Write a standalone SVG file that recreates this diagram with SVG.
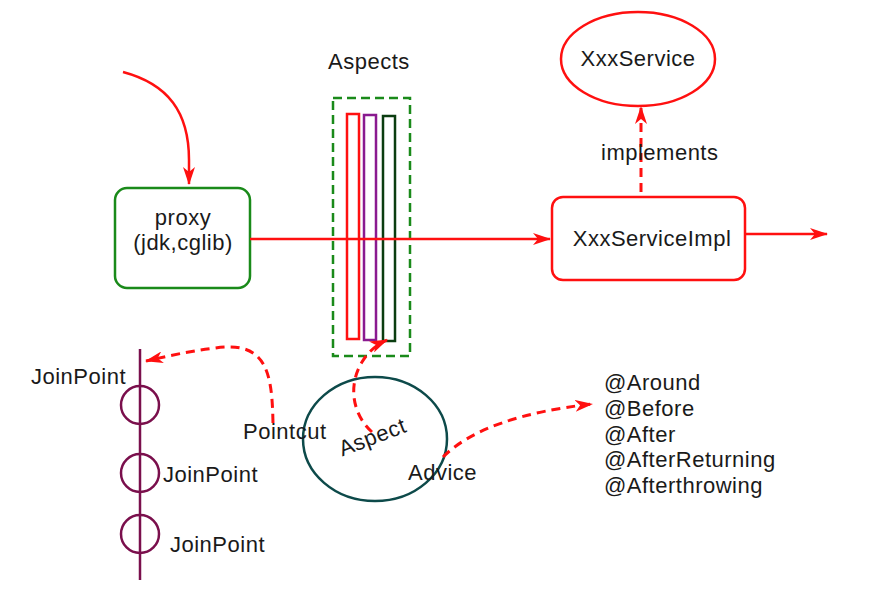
<svg xmlns="http://www.w3.org/2000/svg" width="871" height="599" viewBox="0 0 871 599">
<defs>
<style>
text{font-family:"Liberation Sans",Arial,sans-serif;font-size:22px;letter-spacing:0.5px;fill:#1a1a1a}
.c{text-anchor:middle}
.red{fill:none;stroke:#ff1010;stroke-width:2.5}
.dash{fill:none;stroke:#ff1010;stroke-width:3;stroke-dasharray:9 6}
.jp{fill:none;stroke:#7a0f4c;stroke-width:2.5}
</style>
<marker id="ah" viewBox="0 0 18 12" markerWidth="18" markerHeight="12" refX="17" refY="6" orient="auto" markerUnits="userSpaceOnUse">
<path d="M0,0 L18,6 L0,12 L5,6 z" fill="#ff1010" stroke="none"/>
</marker>
</defs>
<rect width="871" height="599" fill="#fff"/>

<g id="aspects">
<text class="c" x="369" y="69">Aspects</text>
<rect x="333" y="98" width="77" height="258" fill="none" stroke="#1a8a1a" stroke-width="2.5" stroke-dasharray="9 5"/>
<rect x="347" y="114" width="12" height="225" fill="none" stroke="#ff1010" stroke-width="2.5"/>
<rect x="364" y="115" width="12" height="225" fill="none" stroke="#8a1a8f" stroke-width="2.5"/>
<rect x="383" y="116" width="12" height="225" fill="none" stroke="#0b3d10" stroke-width="2.5"/>
</g>

<g id="proxy">
<rect x="115" y="188" width="135" height="100" rx="12" fill="#fff" stroke="#1a8a1a" stroke-width="2.5"/>
<text class="c" x="183" y="225">proxy</text>
<text class="c" x="183" y="250">(jdk,cglib)</text>
</g>

<g id="xxxservice">
<ellipse cx="638" cy="59" rx="77" ry="47" fill="#fff" stroke="#ff1010" stroke-width="2.5"/>
<text class="c" x="638" y="66">XxxService</text>
</g>

<g id="xxxserviceimpl">
<rect x="552" y="197" width="193" height="83" rx="11" fill="#fff" stroke="#ff1010" stroke-width="2.5"/>
<text class="c" x="652" y="246">XxxServiceImpl</text>
</g>

<g id="aspect">
<ellipse cx="375" cy="439" rx="72" ry="62" fill="none" stroke="#0d4a4a" stroke-width="2.5"/>
<text class="c" transform="translate(375,444) rotate(-21)">Aspect</text>
<text x="243" y="439">Pointcut</text>
<text x="408" y="480">Advice</text>
</g>

<g id="joinpoints">
<line x1="140" y1="349" x2="140" y2="580" class="jp"/>
<circle cx="140" cy="405" r="19" class="jp"/>
<circle cx="140" cy="473" r="19" class="jp"/>
<circle cx="140" cy="534" r="19" class="jp"/>
<text x="31" y="384">JoinPoint</text>
<text x="163" y="482">JoinPoint</text>
<text x="170" y="552">JoinPoint</text>
</g>

<g id="advices">
<text x="604" y="390">@Around</text>
<text x="604" y="416">@Before</text>
<text x="604" y="442">@After</text>
<text x="604" y="467">@AfterReturning</text>
<text x="604" y="493">@Afterthrowing</text>
</g>

<g id="connectors">
<path class="red" d="M123,72 C168,84 189,112 189,160 L189,184" marker-end="url(#ah)"/>
<path class="red" d="M250,239 L550,239" marker-end="url(#ah)"/>
<path class="red" d="M745,234 L827,234" marker-end="url(#ah)"/>
<path class="dash" d="M641,192 L641,107" marker-end="url(#ah)"/>
<text x="601" y="160">implements</text>
<path class="dash" d="M273,423 C272,375 268,340 215,348 C190,351 168,356 146,361" marker-end="url(#ah)"/>
<path class="dash" d="M372,432 C352,414 348,385 362,362 C368,352 376,345 387,340" marker-end="url(#ah)"/>
<path class="dash" d="M443,457 C470,430 520,412 592,404" marker-end="url(#ah)"/>
</g>
</svg>
